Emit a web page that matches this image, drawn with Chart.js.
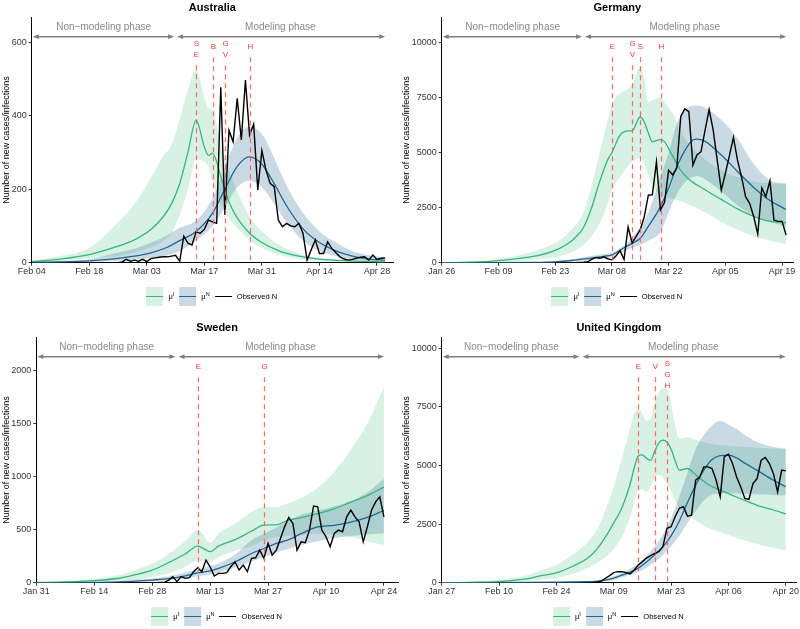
<!DOCTYPE html>
<html>
<head>
<meta charset="utf-8">
<script src="https://cdn.jsdelivr.net/npm/chart.js"></script>
<style>
  body { margin: 0; background: #fff; width: 800px; height: 629px; position: relative; overflow: hidden;
         font-family: "Liberation Sans", Arial, sans-serif; }
  .panel { position: absolute; width: 400px; height: 309px; }
  .legend { position: absolute; top: 287px; height: 19px; display: flex; align-items: center;
            transform: translateX(-50%); font-size: 7.6px; color: #000; white-space: nowrap; }
  .key { position: relative; width: 17px; height: 19px; display: inline-block; }
  .key i { position: absolute; left: 0; right: 0; top: 9px; height: 1.4px; }
  .lab { margin: 0 5px; }
  .lab sup { font-size: 5.5px; vertical-align: 3px; line-height: 0; }
</style>
</head>
<body>
<div class="panel" id="p1" style="left:0;top:0"><canvas id="aus" width="400" height="309"></canvas></div>
<div class="panel" id="p2" style="left:400px;top:0"><canvas id="ger" width="400" height="309"></canvas></div>
<div class="panel" id="p3" style="left:0;top:320px"><canvas id="swe" width="400" height="309"></canvas></div>
<div class="panel" id="p4" style="left:400px;top:320px"><canvas id="uk" width="400" height="309"></canvas></div>
<script>
// x axis = days since the first tick date of each panel
const xTickDays = [0, 14, 28, 42, 56, 70, 84];

// ---- Australia ----
const ausXLabels = ["Feb 04", "Feb 18", "Mar 03", "Mar 17", "Mar 31", "Apr 14", "Apr 28"];
const ausYTicks = [0, 200, 400, 600];
const ausDaysI = [0, 7, 14, 21, 25, 29, 32, 34, 36, 38, 40, 42, 43, 44, 46, 48, 50, 53, 56, 60, 65, 70, 78, 86];
const ausMuI = [3, 10, 22, 45, 62, 90, 125, 160, 215, 300, 388, 315, 292, 298, 235, 165, 122, 80, 55, 33, 18, 10, 5, 2];
const ausMuIHigh = [6, 18, 40, 110, 160, 230, 290, 320, 390, 470, 526, 450, 420, 415, 320, 250, 195, 125, 85, 50, 25, 12, 6, 3];
const ausMuILow = [1, 4, 12, 18, 28, 42, 60, 80, 130, 200, 281, 275, 260, 220, 160, 120, 95, 62, 40, 22, 10, 5, 2, 1];
const ausDaysN = [0, 7, 14, 21, 25, 29, 33, 36, 40, 44, 47, 50, 53, 56, 59, 62, 66, 70, 74, 78, 82, 86];
const ausMuN = [1, 2, 5, 12, 18, 27, 42, 60, 85, 135, 200, 262, 288, 268, 215, 155, 92, 55, 32, 18, 10, 7];
const ausMuNHigh = [2, 4, 9, 28, 38, 55, 75, 95, 115, 175, 260, 340, 370, 350, 285, 210, 135, 85, 55, 32, 20, 14];
const ausMuNLow = [0, 1, 2, 5, 8, 12, 20, 32, 60, 100, 150, 205, 222, 205, 160, 110, 60, 32, 18, 9, 5, 3];
const ausObsStart = 21;
const ausObserved = [0, 2, 9, 4, 7, 4, 9, 3, 11, 13,
  15, 16, 16, 18, 20, 4, 72, 53, 48, 84,
  80, 91, 116, 111, 107, 477, 130, 360, 329, 447,
  334, 497, 347, 377, 198, 305, 252, 216, 207, 116,
  98, 107, 100, 98, 107, 80, 7, 35, 62, 25,
  25, 57, 39, 27, 16, 10, 7, 9, 12, 15,
  16, 7, 21, 9, 12, 13];
const ausEventDays = [40, 44, 47, 53];
const ausEventCodes = ["S\nE", "B", "G\nV", "H"];
const ausPhaseDays = [0, 35, 86];

// ---- Germany ----
const gerXLabels = ["Jan 26", "Feb 09", "Feb 23", "Mar 08", "Mar 22", "Apr 05", "Apr 19"];
const gerYTicks = [0, 2500, 5000, 7500, 10000];
const gerDaysI = [0, 7, 14, 21, 24, 28, 31, 33, 35, 37, 39, 41, 42, 44, 46, 47, 49, 50, 51, 52, 54, 55, 57, 59, 61, 65, 69, 73, 77, 81, 85];
const gerMuI = [5, 20, 90, 240, 330, 560, 850, 1150, 1600, 2500, 3700, 4700, 5000, 5800, 6000, 6000, 6640, 6400, 5900, 5500, 5600, 5500, 4850, 4200, 3800, 3320, 2880, 2450, 2110, 1880, 1820];
const gerMuIHigh = [10, 40, 160, 420, 600, 900, 1300, 1700, 2300, 3500, 5000, 6500, 7200, 7700, 7900, 8100, 8900, 8400, 7300, 7400, 7500, 7300, 6800, 6000, 5400, 4700, 4200, 3900, 3700, 3600, 3580];
const gerMuILow = [1, 6, 40, 110, 160, 260, 400, 550, 800, 1200, 1800, 2700, 3300, 3900, 4400, 4600, 4750, 4500, 4000, 3500, 3100, 3000, 2900, 2800, 2650, 2300, 1850, 1500, 1200, 1000, 850];
const gerDaysN = [0, 14, 21, 28, 32, 36, 40, 42, 45, 47, 49, 51, 54, 56, 58, 60, 62, 63, 65, 69, 73, 77, 81, 85];
const gerMuN = [0, 5, 15, 40, 100, 190, 290, 360, 680, 880, 1110, 1650, 2550, 3400, 4350, 5100, 5580, 5620, 5520, 4900, 4150, 3420, 2830, 2420];
const gerMuNHigh = [0, 10, 25, 70, 150, 280, 380, 450, 780, 1150, 1640, 2300, 3900, 5000, 6300, 6900, 7150, 7150, 7050, 6500, 5650, 4500, 3750, 3600];
const gerMuNLow = [0, 2, 8, 20, 60, 120, 210, 280, 520, 680, 800, 1000, 1400, 2300, 3100, 3650, 3900, 3950, 3800, 3250, 2600, 2150, 1850, 1650];
const gerObsStart = 33;
const gerObserved = [0, 10, 20, 40, 150, 240, 200, 260, 180, 130,
  300, 550, 150, 1620, 900, 1200, 1500, 2100, 3070, 3100,
  4590, 2400, 2750, 4200, 4000, 4300, 6650, 7000, 6870, 4440,
  4900, 5050, 6030, 6970, 6030, 4670, 3300, 4060, 4860, 5700,
  4670, 3900, 3000, 2700, 2100, 1300, 3400, 3000, 3730, 1940,
  1880, 1880, 1260];
const gerEventDays = [42, 47, 49, 54];
const gerEventCodes = ["E", "G\nV", "S", "H"];
const gerPhaseDays = [0, 35, 85];

// ---- Sweden ----
const sweXLabels = ["Jan 31", "Feb 14", "Feb 28", "Mar 13", "Mar 27", "Apr 10", "Apr 24"];
const sweYTicks = [0, 500, 1000, 1500, 2000];
const sweDaysI = [0, 7, 14, 20, 24, 28, 32, 36, 39, 40, 42, 44, 48, 52, 55, 58, 61, 64, 68, 72, 76, 80, 84];
const sweMuI = [2, 8, 20, 42, 75, 118, 190, 270, 345, 330, 292, 345, 405, 485, 542, 545, 590, 612, 650, 697, 758, 820, 900];
const sweMuIHigh = [3, 12, 32, 72, 120, 180, 270, 395, 495, 470, 375, 460, 555, 665, 714, 714, 750, 800, 895, 1045, 1255, 1500, 1842];
const sweMuILow = [1, 4, 8, 12, 25, 55, 88, 150, 210, 205, 197, 240, 300, 345, 400, 430, 440, 450, 460, 455, 430, 390, 355];
const sweDaysN = [0, 7, 14, 20, 24, 28, 32, 36, 39, 42, 44, 48, 52, 55, 58, 61, 64, 68, 72, 76, 80, 84];
const sweMuN = [0, 1, 3, 8, 15, 25, 38, 65, 92, 112, 135, 195, 275, 322, 370, 405, 462, 525, 540, 570, 615, 680];
const sweMuNHigh = [0, 2, 5, 14, 25, 40, 60, 95, 125, 155, 180, 265, 400, 460, 520, 585, 640, 680, 720, 770, 850, 980];
const sweMuNLow = [0, 0, 1, 4, 8, 14, 22, 40, 60, 75, 95, 140, 200, 240, 285, 320, 355, 390, 420, 440, 455, 465];
const sweObsStart = 28;
const sweObserved = [0, 0, 2, 3, 25, 57, 10, 57, 41, 47,
  104, 141, 104, 213, 150, 63, 88, 88, 94, 150,
  197, 119, 166, 104, 229, 235, 307, 229, 370, 260,
  307, 417, 527, 614, 558, 307, 385, 376, 495, 721,
  714, 495, 433, 339, 464, 495, 480, 620, 683, 620,
  574, 385, 527, 683, 761, 808, 620];
const sweEventDays = [39, 55];
const sweEventCodes = ["E", "G"];
const swePhaseDays = [0, 34, 84];

// ---- United Kingdom ----
const ukXLabels = ["Jan 27", "Feb 10", "Feb 24", "Mar 09", "Mar 23", "Apr 06", "Apr 20"];
const ukYTicks = [0, 2500, 5000, 7500, 10000];
const ukDaysI = [0, 7, 14, 21, 24, 28, 32, 36, 38, 40, 42, 44, 46, 47, 48, 49, 50, 51, 52, 53, 54, 55, 56, 57, 58, 60, 62, 65, 69, 73, 77, 81, 84];
const ukMuI = [5, 15, 50, 170, 290, 420, 700, 1100, 1450, 1950, 2550, 3200, 4200, 4900, 5400, 5450, 5300, 5220, 5600, 5950, 6080, 6000, 5700, 5200, 4800, 4870, 4600, 4200, 3870, 3580, 3300, 3100, 2930];
const ukMuIHigh = [10, 40, 120, 330, 520, 760, 1200, 1800, 2300, 3100, 4100, 5300, 6600, 7200, 7450, 7200, 6900, 7000, 7700, 8100, 8300, 8250, 7600, 6700, 6150, 6200, 6100, 5950, 5850, 5800, 5750, 5720, 5700];
const ukMuILow = [2, 5, 18, 70, 130, 200, 380, 650, 850, 1100, 1450, 1950, 2800, 3400, 3950, 4000, 3870, 4100, 4500, 4600, 4500, 4200, 3900, 3500, 3200, 2950, 2650, 2350, 2100, 1850, 1650, 1480, 1370];
const ukDaysN = [0, 21, 28, 35, 38, 40, 42, 44, 46, 48, 50, 52, 54, 56, 58, 60, 62, 64, 66, 68, 70, 72, 74, 77, 81, 84];
const ukMuN = [0, 10, 20, 40, 60, 110, 200, 320, 450, 620, 880, 1190, 1530, 2000, 2620, 3420, 4150, 4800, 5250, 5420, 5440, 5320, 5100, 4790, 4370, 4090];
const ukMuNHigh = [0, 15, 30, 60, 100, 170, 280, 420, 600, 820, 1150, 1550, 2050, 2750, 3650, 4700, 5700, 6300, 6700, 6890, 6750, 6550, 6300, 6000, 5790, 5720];
const ukMuNLow = [0, 5, 10, 25, 40, 70, 130, 230, 330, 460, 650, 880, 1180, 1550, 2000, 2550, 3050, 3500, 3750, 3800, 3820, 3800, 3790, 3770, 3740, 3730];
const ukObsStart = 36;
const ukObserved = [0, 10, 30, 80, 190, 300, 430, 470, 470, 430,
  375, 540, 760, 900, 1050, 1150, 1250, 1320, 1540, 2320,
  2390, 2810, 3170, 3240, 2840, 2880, 4370, 4510, 4940, 4940,
  4870, 4370, 3660, 5370, 5480, 5080, 4510, 4090, 3590, 3550,
  4230, 4440, 5220, 5340, 5080, 4650, 3870, 4800, 4770];
const ukEventDays = [48, 52, 55];
const ukEventCodes = ["E", "V", "S\nG\nH"];
const ukPhaseDays = [0, 34, 84];

const GREEN = "#35b779";
const GREEN_FILL = "rgba(53,183,121,0.2)";
const BLUE = "#22668d";
const BLUE_FILL = "rgba(34,102,141,0.24)";
const FONT = '"Liberation Sans", Arial, sans-serif';
Chart.defaults.font.family = FONT;

// draws the phase arrows and the red dashed event lines
const overlay = {
  id: "overlay",
  afterDatasetsDraw(chart, args, opts) {
    const ctx = chart.ctx;
    const ca = chart.chartArea;
    const x = chart.scales.x;
    ctx.save();

    // event lines
    opts.eventDays.forEach((d, i) => {
      const px = Math.round(x.getPixelForValue(d)) + 0.5;
      const lines = opts.eventCodes[i].split("\n");
      const y0 = lines.length === 1 ? ca.top + 30 : ca.top + 27;
      ctx.fillStyle = "#ff3030";
      ctx.font = "8px " + FONT;
      ctx.textAlign = "center";
      ctx.textBaseline = "middle";
      lines.forEach((t, k) => ctx.fillText(t, px, y0 + k * 11));
      const yStart = y0 + (lines.length - 1) * 11 + 10;
      ctx.strokeStyle = "rgba(255,90,90,0.9)";
      ctx.lineWidth = 1.2;
      ctx.setLineDash([5, 4]);
      ctx.beginPath();
      ctx.moveTo(px, yStart);
      ctx.lineTo(px, ca.bottom);
      ctx.stroke();
    });
    ctx.setLineDash([]);

    // phase arrows
    const ay = ca.top + 19.5;
    const p = opts.phaseDays.map(d => x.getPixelForValue(d));
    ctx.strokeStyle = "#7f7f7f";
    ctx.fillStyle = "#7f7f7f";
    ctx.lineWidth = 1.4;
    const arrow = (xa, xb) => {
      const h = 6, w = 2.4;
      ctx.beginPath();
      ctx.moveTo(xa + h - 1, ay);
      ctx.lineTo(xb - h + 1, ay);
      ctx.stroke();
      ctx.beginPath();
      ctx.moveTo(xa, ay); ctx.lineTo(xa + h, ay - w); ctx.lineTo(xa + h, ay + w);
      ctx.closePath(); ctx.fill();
      ctx.beginPath();
      ctx.moveTo(xb, ay); ctx.lineTo(xb - h, ay - w); ctx.lineTo(xb - h, ay + w);
      ctx.closePath(); ctx.fill();
    };
    arrow(p[0] + 1, p[1] - 1.5);
    arrow(p[1] + 1.5, p[2]);

    ctx.fillStyle = "#8a8a8a";
    ctx.font = "10px " + FONT;
    ctx.textAlign = "center";
    ctx.textBaseline = "middle";
    ctx.fillText("Non\u2212modeling phase", (p[0] + p[1]) / 2, ca.top + 10);
    ctx.fillText("Modeling phase", (p[1] + p[2]) / 2, ca.top + 10);
    ctx.restore();
  }
};

function pts(xs, ys) {
  return xs.map((x, i) => ({ x: x, y: ys[i] }));
}

function band(data, color, fill, order) {
  return {
    data: data, fill: fill, backgroundColor: color,
    borderColor: "rgba(0,0,0,0)", borderWidth: 0, pointRadius: 0,
    cubicInterpolationMode: "monotone", order: order
  };
}

function line(data, color, width, order, smooth) {
  return {
    data: data, fill: false, borderColor: color, borderWidth: width, pointRadius: 0,
    cubicInterpolationMode: smooth ? "monotone" : "default", tension: 0, order: order
  };
}

function buildPanel(panelId, canvasId, p) {
  const observed = p.observed.map((v, i) => ({ x: p.obsStart + i, y: v }));
  const chart = new Chart(document.getElementById(canvasId), {
    type: "line",
    data: {
      datasets: [
        band(pts(p.daysI, p.muIHigh), GREEN_FILL, "+1", 6),
        band(pts(p.daysI, p.muILow), GREEN_FILL, false, 6),
        band(pts(p.daysN, p.muNHigh), BLUE_FILL, "+1", 5),
        band(pts(p.daysN, p.muNLow), BLUE_FILL, false, 5),
        line(pts(p.daysI, p.muI), GREEN, 1.3, 3, true),
        line(pts(p.daysN, p.muN), BLUE, 1.3, 2, true),
        line(observed, "#000", 1.4, 1, false)
      ]
    },
    options: {
      responsive: false,
      animation: false,
      events: [],
      layout: { padding: { left: 0, top: 0, right: 400 - p.right, bottom: 0 } },
      plugins: {
        legend: { display: false },
        tooltip: { enabled: false },
        title: {
          display: true, text: p.title, fullSize: false, color: "#000",
          font: { size: 11, weight: "bold" }, padding: { top: 1, bottom: 3 }
        },
        overlay: { eventDays: p.eventDays, eventCodes: p.eventCodes, phaseDays: p.phaseDays }
      },
      scales: {
        x: {
          type: "linear", min: 0, max: p.xMax,
          afterBuildTicks: s => { s.ticks = xTickDays.map(v => ({ value: v })); },
          afterFit: s => { s.height = 309 - 262.7; s.paddingLeft = 0; s.paddingRight = 0; },
          ticks: {
            autoSkip: false, maxRotation: 0, padding: 0, color: "#333", font: { size: 9 },
            callback: v => p.xLabels[xTickDays.indexOf(v)]
          },
          grid: { drawOnChartArea: false, tickLength: 3, color: "#333" },
          border: { display: true, color: "#000", width: 1 }
        },
        y: {
          min: 0, max: p.yMax,
          afterBuildTicks: s => { s.ticks = p.yTicks.map(v => ({ value: v })); },
          afterFit: s => { s.width = p.left; s.paddingTop = 0; s.paddingBottom = 0; },
          ticks: { padding: 2, color: "#333", font: { size: 9 }, callback: v => String(v) },
          grid: { drawOnChartArea: false, tickLength: 3, color: "#333" },
          border: { display: true, color: "#000", width: 1 },
          title: {
            display: true, text: "Number of new cases/infections", color: "#000",
            font: { size: 9 }, padding: { top: 1, bottom: 0 }
          }
        }
      }
    },
    plugins: [overlay]
  });

  // legend under the plot, centred on the plot area
  const ca = chart.chartArea;
  const lg = document.createElement("div");
  lg.className = "legend";
  lg.style.left = ((ca.left + ca.right) / 2 + 2) + "px";
  lg.innerHTML =
    '<span class="key" style="background:' + GREEN_FILL + '"><i style="background:' + GREEN + '"></i></span>' +
    '<span class="lab">\u03bc<sup>I</sup></span>' +
    '<span class="key" style="background:' + BLUE_FILL + '"><i style="background:' + BLUE + '"></i></span>' +
    '<span class="lab">\u03bc<sup>N</sup></span>' +
    '<span class="key"><i style="background:#000"></i></span>' +
    '<span class="lab">Observed N</span>';
  document.getElementById(panelId).appendChild(lg);
  return chart;
}

buildPanel("p1", "aus", {
  title: "Australia", left: 31.7, right: 393, xMax: 87.9, yMax: 668,
  xLabels: ausXLabels, yTicks: ausYTicks,
  daysI: ausDaysI, muI: ausMuI, muIHigh: ausMuIHigh, muILow: ausMuILow,
  daysN: ausDaysN, muN: ausMuN, muNHigh: ausMuNHigh, muNLow: ausMuNLow,
  obsStart: ausObsStart, observed: ausObserved,
  eventDays: ausEventDays, eventCodes: ausEventCodes, phaseDays: ausPhaseDays
});

buildPanel("p2", "ger", {
  title: "Germany", left: 41.7, right: 393, xMax: 86.7, yMax: 11170,
  xLabels: gerXLabels, yTicks: gerYTicks,
  daysI: gerDaysI, muI: gerMuI, muIHigh: gerMuIHigh, muILow: gerMuILow,
  daysN: gerDaysN, muN: gerMuN, muNHigh: gerMuNHigh, muNLow: gerMuNLow,
  obsStart: gerObsStart, observed: gerObserved,
  eventDays: gerEventDays, eventCodes: gerEventCodes, phaseDays: gerPhaseDays
});

buildPanel("p3", "swe", {
  title: "Sweden", left: 36.3, right: 398, xMax: 87.4, yMax: 2312,
  xLabels: sweXLabels, yTicks: sweYTicks,
  daysI: sweDaysI, muI: sweMuI, muIHigh: sweMuIHigh, muILow: sweMuILow,
  daysN: sweDaysN, muN: sweMuN, muNHigh: sweMuNHigh, muNLow: sweMuNLow,
  obsStart: sweObsStart, observed: sweObserved,
  eventDays: sweEventDays, eventCodes: sweEventCodes, phaseDays: swePhaseDays
});

buildPanel("p4", "uk", {
  title: "United Kingdom", left: 41.7, right: 396, xMax: 86.5, yMax: 10468,
  xLabels: ukXLabels, yTicks: ukYTicks,
  daysI: ukDaysI, muI: ukMuI, muIHigh: ukMuIHigh, muILow: ukMuILow,
  daysN: ukDaysN, muN: ukMuN, muNHigh: ukMuNHigh, muNLow: ukMuNLow,
  obsStart: ukObsStart, observed: ukObserved,
  eventDays: ukEventDays, eventCodes: ukEventCodes, phaseDays: ukPhaseDays
});
</script>
</body>
</html>
